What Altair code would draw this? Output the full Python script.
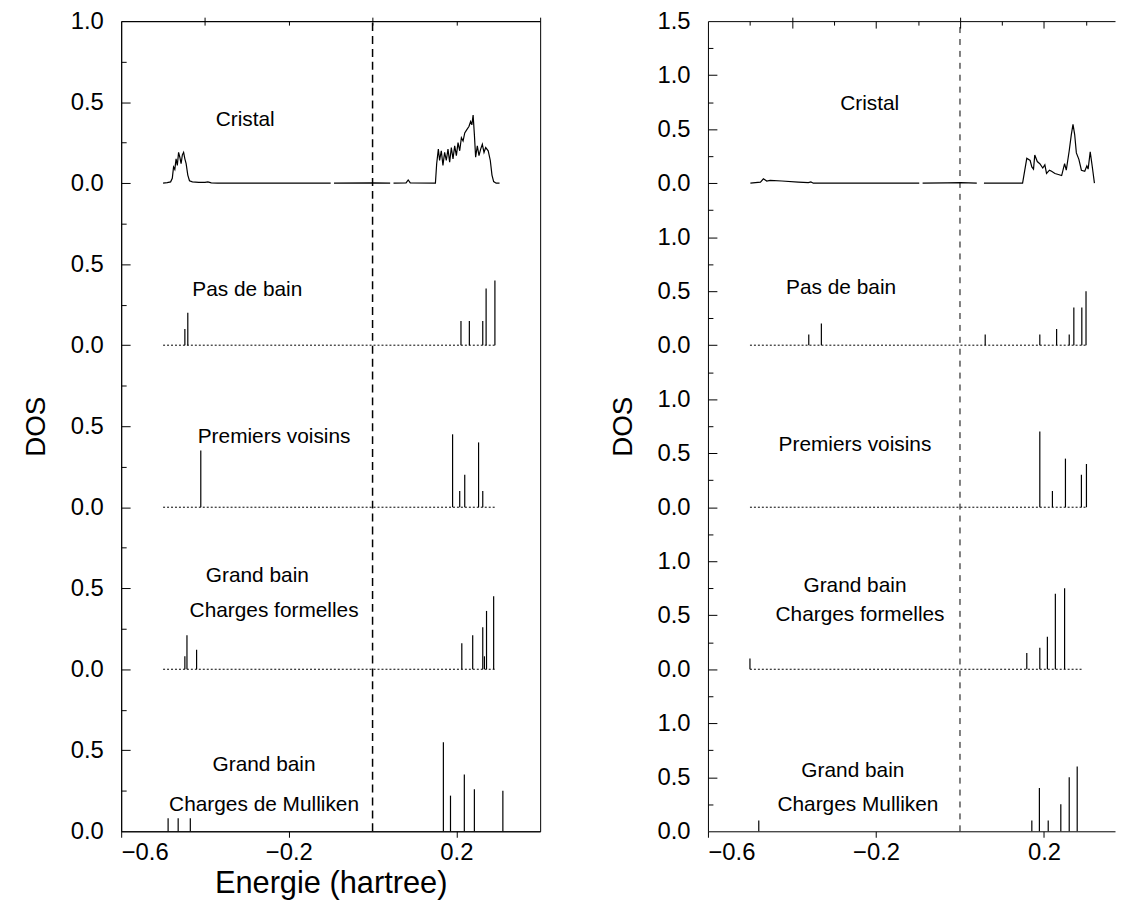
import altair as alt
import pandas as pd

FONT = "Liberation Sans"

# ---------------- LEFT COLUMN DATA ----------------
# Cristal (continuous DOS), three segments (small gaps in the original curve)
L_CRISTAL_E = [-0.500, -0.490, -0.482, -0.478, -0.475, -0.472, -0.469, -0.466, -0.463, -0.460,
               -0.457, -0.454, -0.451, -0.448, -0.445, -0.441, -0.437, -0.430, -0.415, -0.400,
               -0.393, -0.385, -0.370, -0.100,
               -0.092, 0.000, 0.042,
               0.050, 0.080, 0.085, 0.090, 0.150, 0.153, 0.157, 0.160, 0.164, 0.168, 0.172,
               0.176, 0.180, 0.184, 0.188, 0.192, 0.196, 0.200, 0.204, 0.208, 0.212, 0.216,
               0.220, 0.225, 0.230, 0.234, 0.237, 0.240, 0.243, 0.246, 0.250, 0.254, 0.258,
               0.262, 0.266, 0.270, 0.276, 0.281, 0.285, 0.289, 0.295, 0.303]
L_CRISTAL_V = [0.000, 0.003, 0.008, 0.030, 0.100, 0.085, 0.150, 0.110, 0.190, 0.160,
               0.120, 0.175, 0.190, 0.150, 0.120, 0.050, 0.015, 0.008, 0.005, 0.005,
               0.008, 0.002, 0.000, 0.000,
               0.000, 0.002, 0.000,
               0.000, 0.002, 0.020, 0.002, 0.000, 0.120, 0.210, 0.140, 0.200, 0.110, 0.190,
               0.140, 0.210, 0.130, 0.220, 0.150, 0.230, 0.170, 0.250, 0.200, 0.280, 0.260,
               0.310, 0.330, 0.350, 0.380, 0.360, 0.420, 0.300, 0.160, 0.230, 0.170, 0.210,
               0.240, 0.190, 0.220, 0.200, 0.140, 0.050, 0.010, 0.000, 0.000]
L_CRISTAL_SEG = [0] * 24 + [1] * 3 + [2] * 42

L_PAS_E = [-0.448, -0.441, 0.211, 0.231, 0.263, 0.271, 0.292]
L_PAS_V = [0.10, 0.20, 0.15, 0.15, 0.15, 0.35, 0.40]

L_VOIS_E = [-0.410, 0.191, 0.208, 0.220, 0.253, 0.263]
L_VOIS_V = [0.35, 0.45, 0.10, 0.20, 0.40, 0.10]

L_FORM_E = [-0.448, -0.443, -0.420, 0.213, 0.239, 0.263, 0.267, 0.272, 0.289]
L_FORM_V = [0.08, 0.21, 0.12, 0.16, 0.21, 0.26, 0.08, 0.36, 0.45]

L_MULL_E = [-0.488, -0.464, -0.435, 0.169, 0.186, 0.219, 0.243, 0.311]
L_MULL_V = [0.08, 0.08, 0.08, 0.55, 0.22, 0.35, 0.26, 0.25]

# dotted baselines: panel index, start, end
L_BASE_PANEL = [3, 2, 1]
L_BASE_X0 = [-0.500, -0.500, -0.500]
L_BASE_X1 = [0.296, 0.296, 0.296]

L_LABEL_TEXT = ["Cristal", "Pas de bain", "Premiers voisins", "Grand bain",
                "Charges formelles", "Grand bain", "Charges de Mulliken"]
L_LABEL_PANEL = [4, 3, 2, 1, 1, 0, 0]
L_LABEL_E = [-0.304, -0.299, -0.235, -0.275, -0.235, -0.259, -0.259]
L_LABEL_V = [0.39, 0.34, 0.435, 0.576, 0.36, 0.41, 0.16]

# ---------------- RIGHT COLUMN DATA ----------------
R_CRISTAL_E = [-0.499, -0.487, -0.475, -0.468, -0.460, -0.452, -0.424, -0.385, -0.361, -0.355,
               -0.349, -0.097,
               -0.089, -0.030, 0.001, 0.040,
               0.057, 0.149, 0.159, 0.167, 0.171, 0.175, 0.178, 0.184, 0.190, 0.197,
               0.202, 0.206, 0.213, 0.218, 0.226, 0.234, 0.242, 0.249, 0.253, 0.260,
               0.265, 0.269, 0.273, 0.277, 0.283, 0.289, 0.297, 0.302, 0.305, 0.310,
               0.315, 0.320]
R_CRISTAL_V = [0.000, 0.005, 0.010, 0.040, 0.020, 0.025, 0.020, 0.010, 0.005, 0.012,
               0.000, 0.000,
               0.000, 0.002, 0.005, 0.000,
               0.000, 0.000, 0.230, 0.210, 0.150, 0.130, 0.260, 0.200, 0.180, 0.140,
               0.170, 0.090, 0.120, 0.110, 0.090, 0.080, 0.070, 0.180, 0.120, 0.300,
               0.450, 0.545, 0.450, 0.280, 0.220, 0.120, 0.110, 0.160, 0.130, 0.290,
               0.150, 0.000]
R_CRISTAL_SEG = [0] * 12 + [1] * 4 + [2] * 32

R_PAS_E = [-0.360, -0.330, 0.060, 0.190, 0.230, 0.260, 0.271, 0.290, 0.300]
R_PAS_V = [0.10, 0.20, 0.10, 0.10, 0.15, 0.10, 0.35, 0.35, 0.50]

R_VOIS_E = [0.190, 0.220, 0.251, 0.289, 0.301]
R_VOIS_V = [0.70, 0.15, 0.45, 0.30, 0.40]

R_FORM_E = [-0.500, 0.159, 0.190, 0.208, 0.227, 0.249]
R_FORM_V = [0.10, 0.15, 0.20, 0.30, 0.70, 0.75]

R_MULL_E = [-0.479, 0.171, 0.189, 0.210, 0.240, 0.260, 0.279]
R_MULL_V = [0.10, 0.10, 0.40, 0.10, 0.25, 0.50, 0.60]

R_BASE_PANEL = [3, 2, 1]
R_BASE_X0 = [-0.500, -0.500, -0.500]
R_BASE_X1 = [0.300, 0.301, 0.291]

R_LABEL_TEXT = ["Cristal", "Pas de bain", "Premiers voisins", "Grand bain",
                "Charges formelles", "Grand bain", "Charges Mulliken"]
R_LABEL_PANEL = [4, 3, 2, 1, 1, 0, 0]
R_LABEL_E = [-0.215, -0.283, -0.250, -0.250, -0.238, -0.255, -0.243]
R_LABEL_V = [0.73, 0.53, 0.58, 0.77, 0.50, 0.56, 0.24]

# axis tick values
X_LABEL_TICKS = [-0.6, -0.2, 0.2]
X_MINOR_TICKS = [-0.4, 0.0, 0.4]

HEIGHT = 816
AX_LABEL = 24
TITLE_SIZE = 30
TEXT_SIZE = 21


def build_column(cE, cV, cSeg, sticks, bpanel, bx0, bx1, ltext, lpanel, lE, lV,
                 span, top_label, width, xdom, top_major, top_minor, top_major_size,
                 x_title, dash, dash_w, border):
    ymax = span * 5
    yscale = alt.Scale(domain=[0, ymax], nice=False, zero=False)
    xscale = alt.Scale(domain=xdom, nice=False, zero=False)

    curve_df = pd.DataFrame({"E": cE, "y": [4 * span + v for v in cV], "seg": cSeg})
    rows = []
    for panel, (es, vs) in sticks.items():
        for e, v in zip(es, vs):
            rows.append({"E": e, "y0": panel * span, "y1": panel * span + v})
    stick_df = pd.DataFrame(rows)
    base_df = pd.DataFrame({"x0": bx0, "x1": bx1, "y": [p * span for p in bpanel]})
    label_df = pd.DataFrame({"E": lE, "y": [p * span + v for p, v in zip(lpanel, lV)],
                             "text": ltext})
    zero_df = pd.DataFrame({"x": [0.0], "y": [0.0], "y2": [ymax]})

    n_major = int(round(ymax / 0.5))
    label_vals = [0.5 * i for i in range(n_major + 1)]
    major_vals = [0.5 * i for i in range(1, n_major)]
    minor_vals = [0.25 + 0.5 * i for i in range(n_major)]

    axis_a = alt.Axis(values=X_LABEL_TICKS, format=".1f", tickSize=6, labelPadding=3,
                      domain=True, grid=False, title=x_title, titlePadding=5,
                      titleFontSize=31)
    axis_b = alt.Axis(values=X_MINOR_TICKS, tickSize=4, labels=False, domain=False,
                      grid=False, title=None)
    axis_c1 = alt.Axis(orient="bottom", offset=-HEIGHT, values=top_major,
                       tickSize=top_major_size, labels=False, domain=True, grid=False,
                       title=None)
    axis_d = alt.Axis(orient="left", values=label_vals,
                      labelExpr=f"datum.value >= {ymax - 0.01} ? '{top_label}' : format(datum.value % {span}, '.1f')",
                      tickSize=0, labelPadding=18, domain=True, grid=False,
                      title="DOS", titlePadding=20, titleFontSize=28)
    axis_e1 = alt.Axis(orient="right", offset=-width, values=major_vals, tickSize=9,
                       labels=False, domain=False, grid=False, title=None)
    axis_e2 = alt.Axis(orient="right", offset=-width, values=minor_vals, tickSize=5,
                       labels=False, domain=False, grid=False, title=None)

    zero = alt.Chart(zero_df).mark_rule(color="black", strokeDash=dash,
                                        strokeWidth=dash_w).encode(
        x=alt.X("x:Q", scale=xscale, axis=axis_a),
        y=alt.Y("y:Q", scale=yscale, axis=axis_d),
        y2="y2:Q",
    )
    curve = alt.Chart(curve_df).mark_line(color="black", strokeWidth=1.2).encode(
        x=alt.X("E:Q", scale=xscale, axis=axis_b),
        y=alt.Y("y:Q", scale=yscale, axis=axis_e1),
        detail="seg:N",
    )
    stick = alt.Chart(stick_df).mark_rule(color="black", strokeWidth=1.2).encode(
        x=alt.X("E:Q", scale=xscale, axis=axis_c1),
        y=alt.Y("y0:Q", scale=yscale, axis=axis_e2),
        y2="y1:Q",
    )
    if top_minor:
        axis_c2 = alt.Axis(orient="bottom", offset=-HEIGHT, values=top_minor, tickSize=4,
                           labels=False, domain=False, grid=False, title=None)
    else:
        axis_c2 = None
    base = alt.Chart(base_df).mark_rule(color="black", strokeDash=[2, 2],
                                        strokeWidth=1).encode(
        x=alt.X("x0:Q", scale=xscale, axis=axis_c2),
        x2="x1:Q",
        y=alt.Y("y:Q", scale=yscale, axis=None),
    )
    text = alt.Chart(label_df).mark_text(font=FONT, fontSize=TEXT_SIZE,
                                         color="black").encode(
        x=alt.X("E:Q", scale=xscale, axis=None),
        y=alt.Y("y:Q", scale=yscale, axis=None),
        text="text:N",
    )
    return alt.layer(zero, curve, stick, base, text).resolve_axis(
        x="independent", y="independent"
    ).properties(width=width, height=HEIGHT,
                 view=alt.ViewBackground(stroke=border, strokeWidth=1))


left = build_column(
    L_CRISTAL_E, L_CRISTAL_V, L_CRISTAL_SEG,
    {3: (L_PAS_E, L_PAS_V), 2: (L_VOIS_E, L_VOIS_V), 1: (L_FORM_E, L_FORM_V),
     0: (L_MULL_E, L_MULL_V)},
    L_BASE_PANEL, L_BASE_X0, L_BASE_X1,
    L_LABEL_TEXT, L_LABEL_PANEL, L_LABEL_E, L_LABEL_V,
    span=1.0, top_label="1.0", width=422, xdom=[-0.6, 0.4],
    top_major=[-0.4, -0.2, 0.0, 0.2], top_minor=None, top_major_size=4,
    x_title="Energie (hartree)", dash=[8, 5], dash_w=1.5, border="black",
)

right = build_column(
    R_CRISTAL_E, R_CRISTAL_V, R_CRISTAL_SEG,
    {3: (R_PAS_E, R_PAS_V), 2: (R_VOIS_E, R_VOIS_V), 1: (R_FORM_E, R_FORM_V),
     0: (R_MULL_E, R_MULL_V)},
    R_BASE_PANEL, R_BASE_X0, R_BASE_X1,
    R_LABEL_TEXT, R_LABEL_PANEL, R_LABEL_E, R_LABEL_V,
    span=1.5, top_label="1.5", width=410, xdom=[-0.6, 0.369],
    top_major=[-0.4, -0.2, 0.0, 0.2], top_minor=[-0.5, -0.3, -0.1, 0.1, 0.3],
    top_major_size=7,
    x_title=None, dash=[6, 6], dash_w=1.0, border="transparent",
)

chart = alt.hconcat(left, right, spacing=68).properties(
    padding={"left": 14, "top": -3, "right": 0, "bottom": 0}
).configure(font=FONT).configure_view(stroke="transparent").configure_axis(
    labelFont=FONT, labelFontSize=AX_LABEL, labelColor="black",
    titleFont=FONT, titleFontSize=TITLE_SIZE, titleFontWeight="normal", titleColor="black",
    domainColor="black", tickColor="black", domainWidth=1, tickWidth=1,
)

chart.save("out.html", embed_options={"renderer": "svg", "actions": False})
